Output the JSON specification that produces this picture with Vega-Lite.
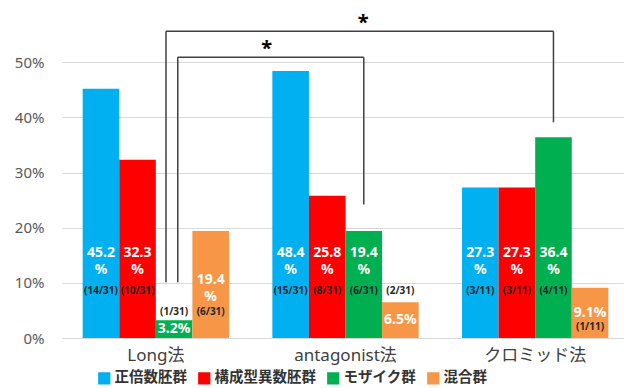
{
  "$schema": "https://vega.github.io/schema/vega-lite/v6.json",
  "width": 562,
  "height": 331,
  "autosize": {"type": "none"},
  "padding": {"left": 62, "top": 7, "right": 0, "bottom": 50},
  "config": {"view": {"stroke": null}, "font": "Noto Sans"},
  "datasets": {
    "bars": [
      {"method": "Long法", "group": "正倍数胚群", "value": 0.452, "pct": "45.2\n%", "frac": "(14/31)"},
      {"method": "Long法", "group": "構成型異数胚群", "value": 0.323, "pct": "32.3\n%", "frac": "(10/31)"},
      {"method": "Long法", "group": "モザイク群", "value": 0.032, "pct": "3.2%", "frac": "(1/31)"},
      {"method": "Long法", "group": "混合群", "value": 0.194, "pct": "19.4\n%", "frac": "(6/31)"},
      {"method": "antagonist法", "group": "正倍数胚群", "value": 0.484, "pct": "48.4\n%", "frac": "(15/31)"},
      {"method": "antagonist法", "group": "構成型異数胚群", "value": 0.258, "pct": "25.8\n%", "frac": "(8/31)"},
      {"method": "antagonist法", "group": "モザイク群", "value": 0.194, "pct": "19.4\n%", "frac": "(6/31)"},
      {"method": "antagonist法", "group": "混合群", "value": 0.065, "pct": "6.5%", "frac": "(2/31)"},
      {"method": "クロミッド法", "group": "正倍数胚群", "value": 0.273, "pct": "27.3\n%", "frac": "(3/11)"},
      {"method": "クロミッド法", "group": "構成型異数胚群", "value": 0.273, "pct": "27.3\n%", "frac": "(3/11)"},
      {"method": "クロミッド法", "group": "モザイク群", "value": 0.364, "pct": "36.4\n%", "frac": "(4/11)"},
      {"method": "クロミッド法", "group": "混合群", "value": 0.091, "pct": "9.1%", "frac": "(1/11)"}
    ],
    "brackets": [
      {"from": "Long法", "to": "クロミッド法", "top": 0.556, "leftLow": 0.101, "rightLow": 0.391, "star": "*"},
      {"from": "Long法", "to": "antagonist法", "top": 0.509, "leftLow": 0.101, "rightLow": 0.242, "star": "*"}
    ]
  },
  "layer": [
    {
      "data": {"name": "bars"},
      "layer": [
        {
          "mark": {"type": "bar"},
          "encoding": {
            "x": {
              "field": "method", "type": "nominal",
              "scale": {"domain": ["Long法", "antagonist法", "クロミッド法"], "range": [0, 567], "paddingInner": 0.2287, "paddingOuter": 0.109},
              "axis": {"title": null, "labelAngle": 0, "labelFontSize": 17, "labelColor": "#404040", "labelPadding": 9, "ticks": false, "domainColor": "#d9d9d9", "labelFont": "'Noto Sans', 'Noto Sans CJK JP'"}
            },
            "xOffset": {
              "field": "group", "type": "nominal",
              "scale": {"domain": ["正倍数胚群", "構成型異数胚群", "モザイク群", "混合群"], "paddingInner": 0, "paddingOuter": 0}
            },
            "y": {
              "field": "value", "type": "quantitative",
              "scale": {"domain": [0, 0.6], "nice": false},
              "axis": {"title": null, "values": [0, 0.1, 0.2, 0.3, 0.4, 0.5], "format": ".0%", "labelFontSize": 15, "labelColor": "#595959", "labelPadding": 18, "ticks": false, "domain": false, "gridColor": "#d9d9d9"}
            },
            "color": {
              "field": "group", "type": "nominal",
              "scale": {"domain": ["正倍数胚群", "構成型異数胚群", "モザイク群", "混合群"], "range": ["#00B0F0", "#FF0000", "#00B050", "#F79646"]},
              "legend": {"title": null, "orient": "none", "legendX": 35, "legendY": 364, "direction": "horizontal", "columns": 4, "columnPadding": 10, "symbolType": "square", "symbolSize": 150, "symbolStrokeWidth": 0, "labelFontSize": 14.5, "labelFontWeight": "bold", "labelColor": "#333333", "labelFont": "'Noto Sans CJK JP'", "labelOffset": 3}
            }
          }
        },
        {
          "transform": [{"filter": "datum.value >= 0.15 && !(datum.method == 'Long法' && datum.group == '混合群')"}],
          "mark": {"type": "text", "color": "white", "fontWeight": "bold", "fontSize": 14, "lineBreak": "\n", "lineHeight": 17, "baseline": "middle"},
          "encoding": {
            "x": {"field": "method", "type": "nominal"},
            "xOffset": {"field": "group", "type": "nominal"},
            "y": {"datum": 0.154},
            "text": {"field": "pct"}
          }
        },
        {
          "transform": [{"filter": "datum.method == 'Long法' && datum.group == '混合群'"}],
          "mark": {"type": "text", "color": "white", "fontWeight": "bold", "fontSize": 14, "lineBreak": "\n", "lineHeight": 17, "baseline": "middle"},
          "encoding": {
            "x": {"field": "method", "type": "nominal"},
            "xOffset": {"field": "group", "type": "nominal"},
            "y": {"datum": 0.105},
            "text": {"field": "pct"}
          }
        },
        {
          "transform": [{"filter": "(datum.value >= 0.15 && !(datum.method == 'Long法' && datum.group == '混合群')) || (datum.method == 'antagonist法' && datum.group == '混合群')"}],
          "mark": {"type": "text", "color": "#262626", "fontWeight": "bold", "fontSize": 10, "baseline": "middle"},
          "encoding": {
            "x": {"field": "method", "type": "nominal"},
            "xOffset": {"field": "group", "type": "nominal"},
            "y": {"datum": 0.0857},
            "text": {"field": "frac"}
          }
        },
        {
          "transform": [{"filter": "datum.method == 'Long法' && (datum.group == '混合群' || datum.group == 'モザイク群')"}],
          "mark": {"type": "text", "color": "#262626", "fontWeight": "bold", "fontSize": 10, "baseline": "middle"},
          "encoding": {
            "x": {"field": "method", "type": "nominal"},
            "xOffset": {"field": "group", "type": "nominal"},
            "y": {"datum": 0.047},
            "text": {"field": "frac"}
          }
        },
        {
          "transform": [{"filter": "datum.method == 'クロミッド法' && datum.group == '混合群'"}],
          "mark": {"type": "text", "color": "#262626", "fontWeight": "bold", "fontSize": 10, "baseline": "middle"},
          "encoding": {
            "x": {"field": "method", "type": "nominal"},
            "xOffset": {"field": "group", "type": "nominal"},
            "y": {"datum": 0.0194},
            "text": {"field": "frac"}
          }
        },
        {
          "data": {"name": "brackets"},
          "transform": [{"filter": "datum.to == 'クロミッド法'"}],
          "layer": [
            {
              "mark": {"type": "rule", "color": "#404040", "strokeWidth": 1.5},
              "encoding": {
                "x": {"field": "from", "type": "nominal", "bandPosition": 0.5695},
                "y": {"field": "leftLow", "type": "quantitative"},
                "y2": {"field": "top"}
              }
            },
            {
              "mark": {"type": "rule", "color": "#404040", "strokeWidth": 1.5},
              "encoding": {
                "x": {"field": "from", "type": "nominal", "bandPosition": 0.5695},
                "x2": {"field": "to", "bandPosition": 0.625},
                "y": {"field": "top", "type": "quantitative"}
              }
            },
            {
              "mark": {"type": "rule", "color": "#404040", "strokeWidth": 1.5},
              "encoding": {
                "x": {"field": "to", "type": "nominal", "bandPosition": 0.625},
                "y": {"field": "rightLow", "type": "quantitative"},
                "y2": {"field": "top"}
              }
            },
            {
              "mark": {"type": "text", "fontSize": 20, "fontWeight": "bold", "color": "black", "baseline": "alphabetic", "dy": -2},
              "encoding": {
                "x": {"field": "from", "type": "nominal", "bandPosition": 1.918},
                "y": {"field": "top", "type": "quantitative"},
                "text": {"field": "star"}
              }
            }
          ]
        },
        {
          "data": {"name": "brackets"},
          "transform": [{"filter": "datum.to == 'antagonist法'"}],
          "layer": [
            {
              "mark": {"type": "rule", "color": "#404040", "strokeWidth": 1.5},
              "encoding": {
                "x": {"field": "from", "type": "nominal", "bandPosition": 0.65},
                "y": {"field": "leftLow", "type": "quantitative"},
                "y2": {"field": "top"}
              }
            },
            {
              "mark": {"type": "rule", "color": "#404040", "strokeWidth": 1.5},
              "encoding": {
                "x": {"field": "from", "type": "nominal", "bandPosition": 0.65},
                "x2": {"field": "to", "bandPosition": 0.625},
                "y": {"field": "top", "type": "quantitative"}
              }
            },
            {
              "mark": {"type": "rule", "color": "#404040", "strokeWidth": 1.5},
              "encoding": {
                "x": {"field": "to", "type": "nominal", "bandPosition": 0.625},
                "y": {"field": "rightLow", "type": "quantitative"},
                "y2": {"field": "top"}
              }
            },
            {
              "mark": {"type": "text", "fontSize": 20, "fontWeight": "bold", "color": "black", "baseline": "alphabetic", "dy": -2},
              "encoding": {
                "x": {"field": "from", "type": "nominal", "bandPosition": 1.258},
                "y": {"field": "top", "type": "quantitative"},
                "text": {"field": "star"}
              }
            }
          ]
        }
      ]
    },
    {
      "data": {"name": "bars"},
      "transform": [{"filter": "datum.value < 0.15"}],
      "mark": {"type": "text", "color": "white", "fontWeight": "bold", "fontSize": 14, "baseline": "middle"},
      "encoding": {
        "x": {"field": "method", "type": "nominal"},
        "xOffset": {"field": "group", "type": "nominal"},
        "y": {"field": "value", "type": "quantitative", "scale": {"domain": [0, 1.2], "nice": false}, "axis": null},
        "text": {"field": "pct"}
      }
    }
  ],
  "resolve": {"scale": {"y": "independent"}}
}
